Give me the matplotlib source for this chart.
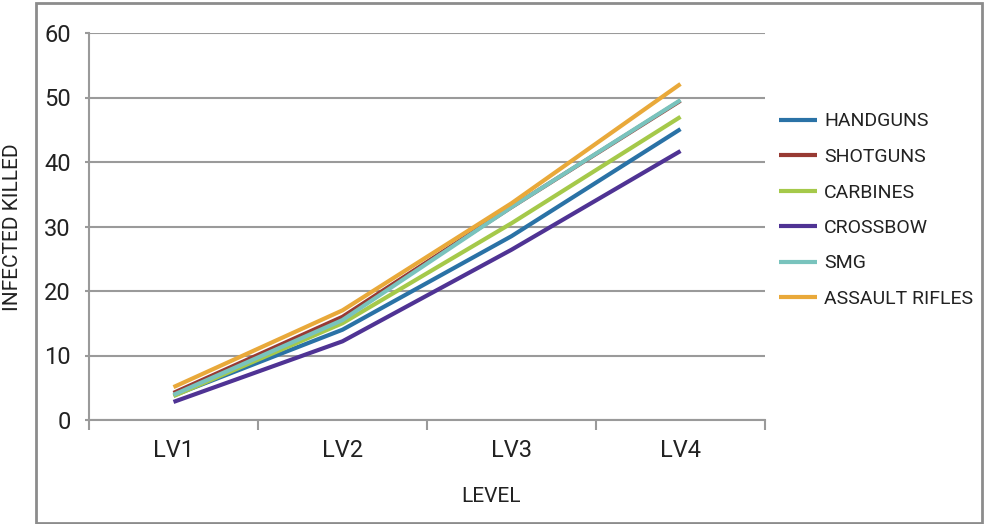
"""
Infected killed per level, by weapon class
"""

import matplotlib
matplotlib.use("Agg")
import matplotlib.pyplot as plt
from matplotlib.patches import Rectangle
from matplotlib.ticker import FixedLocator

# Roboto is the narrowest installed sans, closest to the original condensed face
plt.rcParams['font.family'] = ['Roboto', 'DejaVu Sans']
fs = 15
leg_fs = 14
tick_fs = 17

# data
levels = ["LV1", "LV2", "LV3", "LV4"]
handguns = [3.8, 14.0, 28.5, 45.1]
shotguns = [4.2, 16.0, 33.0, 49.5]
carbines = [3.7, 15.0, 30.5, 47.0]
crossbow = [2.8, 12.2, 26.4, 41.7]
smg = [3.9, 15.5, 33.0, 49.6]
assault_rifles = [5.1, 17.0, 33.6, 52.1]

series = [
    ("HANDGUNS", handguns, "#2a72a6"),
    ("SHOTGUNS", shotguns, "#983a33"),
    ("CARBINES", carbines, "#a5c94a"),
    ("CROSSBOW", crossbow, "#4f3394"),
    ("SMG", smg, "#79c3bd"),
    ("ASSAULT RIFLES", assault_rifles, "#e9a93a"),
]

W, H = 984, 524
fig = plt.figure(figsize=(W / 100, H / 100), dpi=100)
ax = fig.add_axes([89 / W, 1 - 420 / H, (765 - 89) / W, (420 - 33) / H])

x = list(range(len(levels)))
for name, vals, col in series:
    ax.plot(x, vals, color=col, linewidth=3.0, label=name, solid_capstyle='butt')

grey = "#9a9a9a"
ax.set_xlim(-0.5, len(levels) - 0.5)
ax.set_ylim(0, 60)
ax.set_yticks(range(0, 61, 10))
ax.yaxis.grid(True, color=grey, linewidth=1.5)
ax.set_axisbelow(True)

ax.set_xticks(x)
ax.set_xticklabels(levels)
ax.xaxis.set_minor_locator(FixedLocator([i - 0.5 for i in range(len(levels) + 1)]))
ax.tick_params(axis='x', which='major', length=0, pad=14, labelsize=tick_fs, colors='#222222')
ax.tick_params(axis='x', which='minor', length=7, width=1.5, color=grey)
ax.tick_params(axis='y', length=3, width=1.5, color=grey, pad=10, labelsize=tick_fs,
               labelcolor='#222222')

for side in ['top', 'right']:
    ax.spines[side].set_visible(False)
for side in ['left', 'bottom']:
    ax.spines[side].set_color(grey)
    ax.spines[side].set_linewidth(1.5)

fig.text(13 / W, 1 - 227 / H, "INFECTED KILLED", rotation=90, ha='center', va='center',
         fontsize=fs, color='#222222')
fig.text(491 / W, 1 - 497 / H, "LEVEL", ha='center', va='center', fontsize=fs,
         color='#222222')

fig.legend(loc='upper left', bbox_to_anchor=(761 / W, 1 - 95 / H), frameon=False,
           fontsize=leg_fs, handlelength=2.0, handletextpad=0.35,
           labelspacing=0.9, labelcolor='#222222')

# outer frame
fig.patches.append(Rectangle((36 / W, 1 / H), (982 - 36) / W, (522 - 2) / H,
                             transform=fig.transFigure, fill=False,
                             edgecolor="#8c8c8c", linewidth=2))

fig.savefig("out.png", dpi=100)
